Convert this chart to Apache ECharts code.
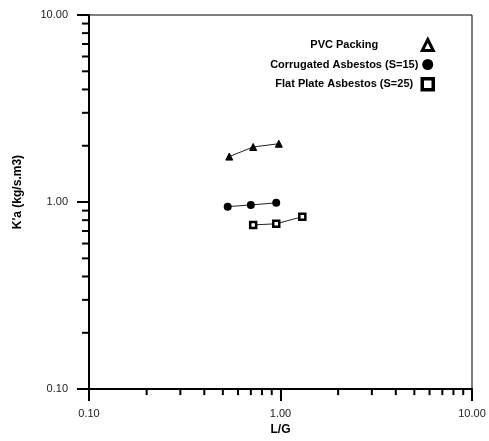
<!DOCTYPE html>
<html>
<head>
<meta charset="utf-8">
<script src="https://cdn.jsdelivr.net/npm/echarts@6/dist/echarts.min.js"></script>
<style>html,body{margin:0;padding:0;background:#fff}#c{width:489px;height:441px}</style>
</head>
<body>
<div id="c"></div>
<script>
// Data
const seriesNames = ['PVC Packing', 'Corrugated Asbestos (S=15)', 'Flat Plate Asbestos (S=25)'];
const pvcLG = [0.54, 0.72, 0.98];
const pvcKa = [1.75, 1.97, 2.05];
const corrLG = [0.53, 0.70, 0.95];
const corrKa = [0.945, 0.965, 0.99];
const flatLG = [0.72, 0.95, 1.30];
const flatKa = [0.755, 0.765, 0.835];
const majorTicks = [0.1, 1, 10];
const minorTicks = [0.2, 0.3, 0.4, 0.5, 0.6, 0.7, 0.8, 0.9, 2, 3, 4, 5, 6, 7, 8, 9];

const zip = (a, b) => a.map((v, i) => [v, b[i]]);
const fmt = v => Number(v).toFixed(2);
const FONT = 'Liberation Sans, Arial, sans-serif';

const chart = echarts.init(document.getElementById('c'));

function markerSeries(name, xs, ys, symbol, size, itemStyle) {
  return {
    name: name, type: 'line', data: zip(xs, ys),
    symbol: symbol, symbolSize: size, showSymbol: true,
    lineStyle: {color: '#222', width: 1},
    itemStyle: itemStyle, z: 5, animation: false
  };
}

chart.setOption({
  animation: false,
  grid: {left: 89, right: 17, top: 15, bottom: 50, show: true, borderColor: '#000', borderWidth: 1},
  legend: {
    orient: 'vertical', right: 49, top: 33, align: 'right',
    itemWidth: 11, itemHeight: 11, itemGap: 7,
    formatter: n => '{a|' + n + '}',
    textStyle: {fontFamily: FONT, fontSize: 11, fontWeight: 'bold', color: '#000',
      rich: {a: {width: 146, align: 'center', lineHeight: 13, fontFamily: FONT, fontSize: 11, fontWeight: 'bold', color: '#000'}}},
    data: [
      {name: seriesNames[0], icon: 'triangle', itemStyle: {color: '#fff', borderColor: '#000', borderWidth: 3}},
      {name: seriesNames[1], icon: 'circle', itemStyle: {color: '#000', borderColor: '#000', borderWidth: 0}},
      {name: seriesNames[2], icon: 'rect', itemStyle: {color: '#fff', borderColor: '#000', borderWidth: 3.5}}
    ]
  },
  xAxis: {
    type: 'log', logBase: 10, min: 0.1, max: 10,
    name: 'L/G', nameLocation: 'middle', nameGap: 34,
    nameTextStyle: {fontFamily: FONT, fontSize: 12, fontWeight: 'bold', color: '#000'},
    axisLine: {lineStyle: {color: '#000', width: 2}},
    axisTick: {length: 12, lineStyle: {color: '#000', width: 2}},
    axisLabel: {formatter: fmt, fontFamily: FONT, fontSize: 11, color: '#222', margin: 19},
    splitLine: {show: false}
  },
  yAxis: {
    type: 'log', logBase: 10, min: 0.1, max: 10,
    name: "K'a (kg/s.m3)", nameLocation: 'middle', nameGap: 65,
    nameTextStyle: {fontFamily: FONT, fontSize: 12, fontWeight: 'bold', color: '#000', padding: [0, 0, 0, 20]},
    axisLine: {lineStyle: {color: '#000', width: 2}},
    axisTick: {length: 12, lineStyle: {color: '#000', width: 2}},
    axisLabel: {formatter: fmt, fontFamily: FONT, fontSize: 11, color: '#222', margin: 21},
    splitLine: {show: false}
  },
  series: [
    markerSeries(seriesNames[0], pvcLG, pvcKa, 'triangle', 7, {color: '#000', borderColor: '#000', borderWidth: 1}),
    markerSeries(seriesNames[1], corrLG, corrKa, 'circle', 8, {color: '#000', borderColor: '#000', borderWidth: 0}),
    markerSeries(seriesNames[2], flatLG, flatKa, 'rect', 6, {color: '#fff', borderColor: '#000', borderWidth: 2.5}),
    {
      type: 'custom', silent: true, clip: false, z: 6, animation: false,
      data: minorTicks.map(v => [v, 0.1]),
      renderItem: (params, api) => {
        const p = api.coord([api.value(0), 0.1]);
        return {type: 'line', shape: {x1: p[0], y1: p[1], x2: p[0], y2: p[1] + 6}, style: {stroke: '#000', lineWidth: 2}};
      }
    },
    {
      type: 'custom', silent: true, clip: false, z: 6, animation: false,
      data: minorTicks.map(v => [0.1, v]),
      renderItem: (params, api) => {
        const p = api.coord([0.1, api.value(1)]);
        return {type: 'line', shape: {x1: p[0] - 7, y1: p[1], x2: p[0], y2: p[1]}, style: {stroke: '#000', lineWidth: 2}};
      }
    }
  ]
});
</script>
</body>
</html>
